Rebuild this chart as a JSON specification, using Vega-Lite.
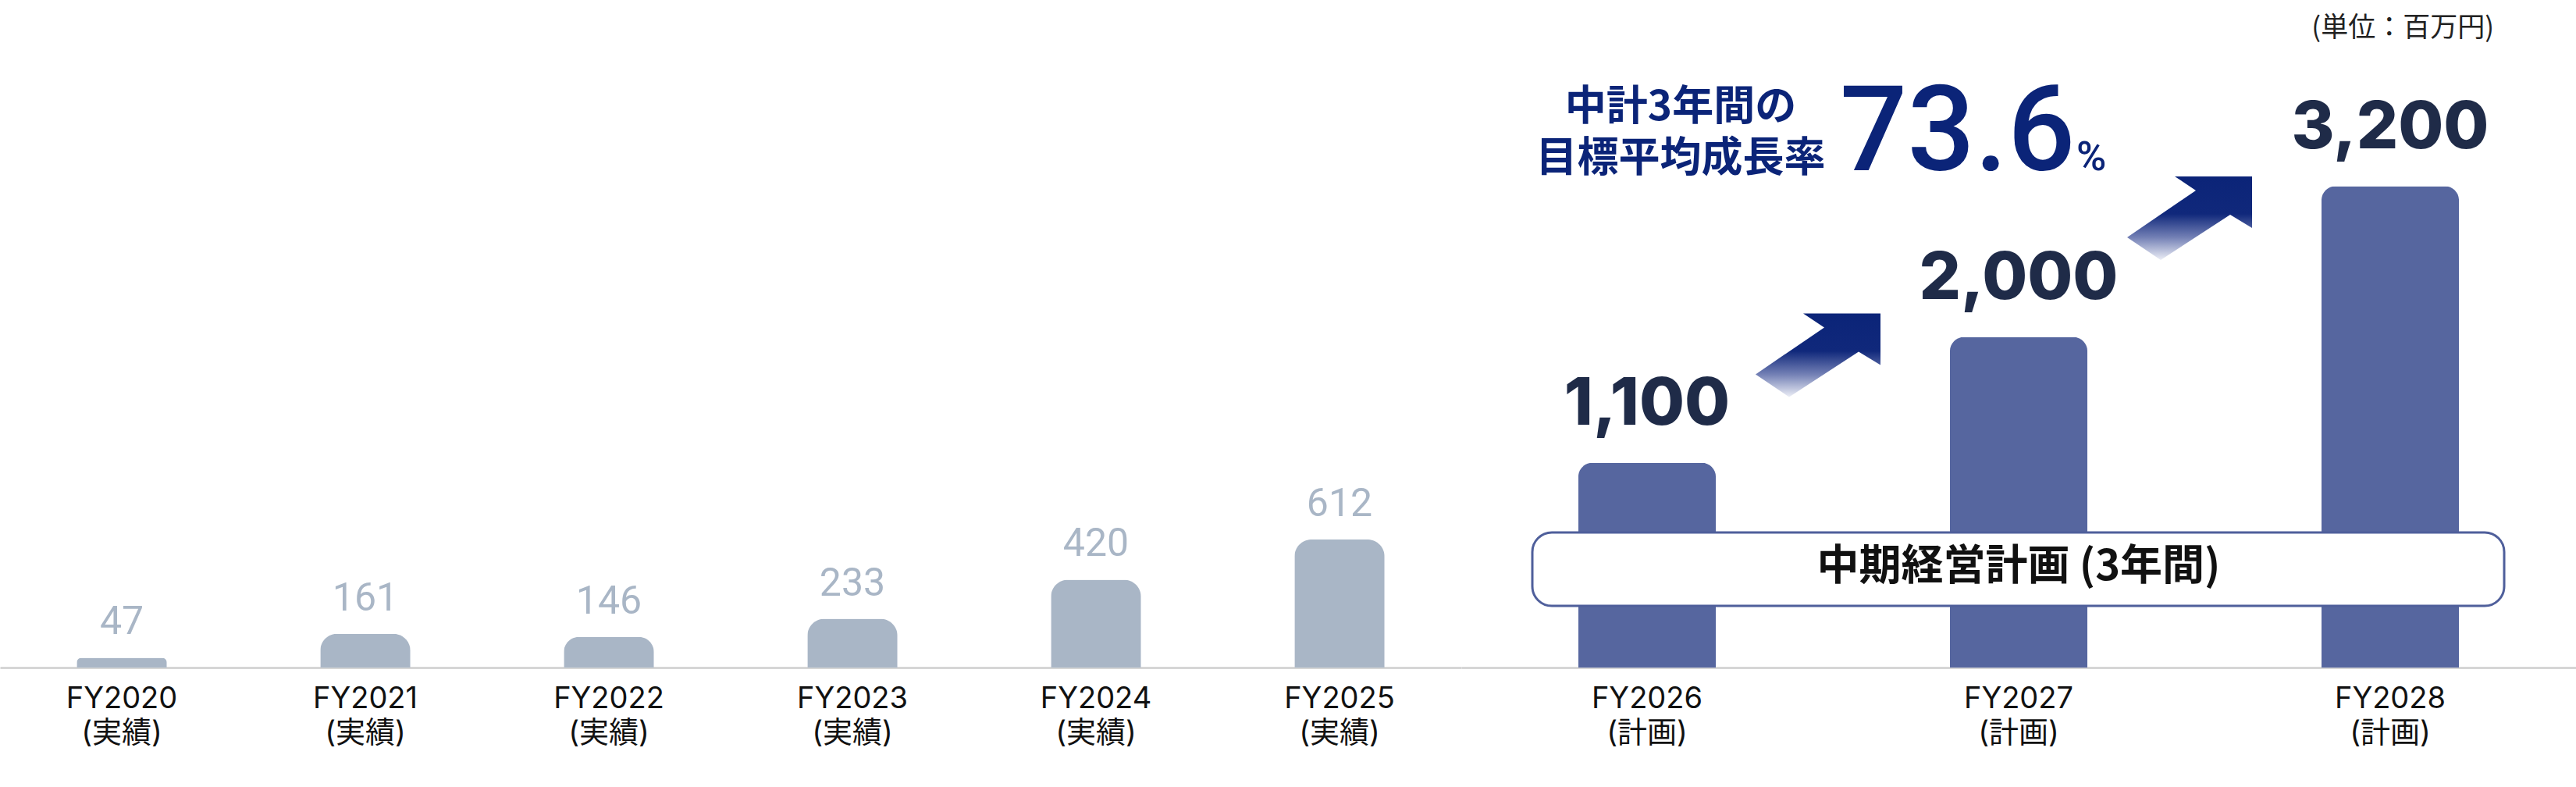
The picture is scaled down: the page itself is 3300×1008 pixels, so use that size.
{
  "$schema": "https://vega.github.io/schema/vega-lite/v6.json",
  "background": "white",
  "padding": 0,
  "spacing": 0,
  "config": {
    "view": {"stroke": null},
    "axisX": {
      "domainColor": "#d6d6d6",
      "domainWidth": 3,
      "ticks": false,
      "grid": false,
      "labelFont": "Inter, Noto Sans CJK JP",
      "labelFontSize": 38,
      "labelColor": "#111111",
      "labelPadding": 21,
      "labelLineHeight": 44,
      "labelBaseline": "top",
      "labelAngle": 0,
      "title": null,
      "zindex": 1
    }
  },
  "hconcat": [
    {
      "width": 1872,
      "height": 855,
      "data": {
        "values": [
          {"fy": "FY2020", "value": 47},
          {"fy": "FY2021", "value": 161},
          {"fy": "FY2022", "value": 146},
          {"fy": "FY2023", "value": 233},
          {"fy": "FY2024", "value": 420},
          {"fy": "FY2025", "value": 612}
        ]
      },
      "encoding": {
        "x": {
          "field": "fy",
          "type": "nominal",
          "sort": null,
          "scale": {"paddingInner": 0.63, "paddingOuter": 0.315},
          "axis": {"labelExpr": "[datum.label, '(実績)']", "title": null}
        },
        "y": {
          "field": "value",
          "type": "quantitative",
          "scale": {"domain": [0, 3190], "nice": false},
          "axis": null
        }
      },
      "layer": [
        {
          "mark": {"type": "bar", "color": "#a9b6c6", "cornerRadiusTopLeft": 22, "cornerRadiusTopRight": 22}
        },
        {
          "mark": {"type": "text", "baseline": "alphabetic", "dy": -30, "font": "Roboto", "fontSize": 50, "color": "#a9b6c6"},
          "encoding": {"text": {"field": "value", "type": "quantitative", "format": ","}}
        }
      ]
    },
    {
      "width": 1428,
      "height": 855,
      "data": {
        "values": [
          {"fy": "FY2026", "value": 1100},
          {"fy": "FY2027", "value": 2000},
          {"fy": "FY2028", "value": 3200}
        ]
      },
      "encoding": {
        "x": {
          "field": "fy",
          "type": "nominal",
          "sort": null,
          "scale": {"domain": ["FY2026", "FY2027", "FY2028"], "paddingInner": 0.63, "paddingOuter": 0.315},
          "axis": {"labelExpr": "[datum.label, '(計画)']", "title": null}
        },
        "y": {
          "field": "value",
          "type": "quantitative",
          "scale": {"type": "pow", "exponent": 0.8, "domain": [0, 4817], "nice": false},
          "axis": null
        }
      },
      "layer": [
        {
          "mark": {"type": "bar", "color": "#56669f", "cornerRadiusTopLeft": 18, "cornerRadiusTopRight": 18}
        },
        {
          "data": {"values": [{"from": "FY2026", "to": "FY2028", "lo": 245, "hi": 654}]},
          "mark": {"type": "rect", "fill": "#ffffff", "stroke": "#4f5f9b", "strokeWidth": 3, "cornerRadius": 25, "xOffset": -147, "x2Offset": 146},
          "encoding": {
            "x": {"field": "from", "type": "nominal"},
            "x2": {"field": "to"},
            "y": {"field": "lo", "type": "quantitative"},
            "y2": {"field": "hi"}
          }
        },
        {
          "data": {"values": [{"at": "FY2027", "pos": 449, "t": "中期経営計画 (3年間)"}]},
          "mark": {"type": "text", "baseline": "middle", "align": "center", "font": "Noto Sans CJK JP", "fontWeight": "bold", "fontSize": 54, "color": "#111111"},
          "encoding": {
            "x": {"field": "at", "type": "nominal"},
            "y": {"field": "pos", "type": "quantitative"},
            "text": {"field": "t"}
          }
        },
        {
          "mark": {"type": "text", "baseline": "alphabetic", "dy": -49, "font": "Inter", "fontWeight": 800, "fontSize": 84, "color": "#1f2b48"},
          "encoding": {"text": {"field": "value", "type": "quantitative", "format": ","}}
        },
        {
          "data": {"values": [{"at": "FY2026", "pos": 1864}, {"at": "FY2027", "pos": 2937}]},
          "mark": {
            "type": "point",
            "shape": "M -1 0.306 L 0.1 -0.444 L -0.2375 -0.669 L 1 -0.669 L 1 0.156 L 0.65 -0.056 L -0.4625 0.669 Z",
            "size": 25600,
            "filled": true,
            "opacity": 1,
            "strokeWidth": 0,
            "xOffset": 219,
            "fill": {
              "gradient": "linear",
              "x1": 0, "y1": 0, "x2": 0, "y2": 1,
              "stops": [
                {"offset": 0, "color": "#0b2478"},
                {"offset": 0.45, "color": "#10287b"},
                {"offset": 0.73, "color": "#7380b5"},
                {"offset": 1, "color": "#eceef6"}
              ]
            }
          },
          "encoding": {
            "x": {"field": "at", "type": "nominal"},
            "y": {"field": "pos", "type": "quantitative"}
          }
        },
        {
          "data": {"values": [{"at": "FY2026", "pos": 3866}]},
          "mark": {"type": "text", "text": ["中計3年間の", "目標平均成長率"], "baseline": "middle", "align": "center", "dx": 43, "lineHeight": 66, "font": "Noto Sans CJK JP", "fontWeight": "bold", "fontSize": 53, "color": "#0b2478"},
          "encoding": {
            "x": {"field": "at", "type": "nominal"},
            "y": {"field": "pos", "type": "quantitative"}
          }
        },
        {
          "data": {"values": [{"at": "FY2026", "pos": 3334, "t": "73.6"}]},
          "mark": {"type": "text", "baseline": "alphabetic", "align": "left", "dx": 247, "font": "Roboto", "fontWeight": 500, "fontSize": 152, "color": "#0b2478"},
          "encoding": {
            "x": {"field": "at", "type": "nominal"},
            "y": {"field": "pos", "type": "quantitative"},
            "text": {"field": "t"}
          }
        },
        {
          "data": {"values": [{"at": "FY2026", "pos": 3334, "t": "%"}]},
          "mark": {"type": "text", "baseline": "alphabetic", "align": "left", "dx": 550, "font": "Roboto", "fontWeight": 500, "fontSize": 52, "color": "#0b2478"},
          "encoding": {
            "x": {"field": "at", "type": "nominal"},
            "y": {"field": "pos", "type": "quantitative"},
            "text": {"field": "t"}
          }
        },
        {
          "data": {"values": [{"at": "FY2028", "pos": 4565, "t": "(単位：百万円)"}]},
          "mark": {"type": "text", "baseline": "middle", "align": "right", "dx": 133, "font": "Noto Sans CJK JP", "fontSize": 35, "color": "#222222"},
          "encoding": {
            "x": {"field": "at", "type": "nominal"},
            "y": {"field": "pos", "type": "quantitative"},
            "text": {"field": "t"}
          }
        }
      ]
    }
  ]
}
